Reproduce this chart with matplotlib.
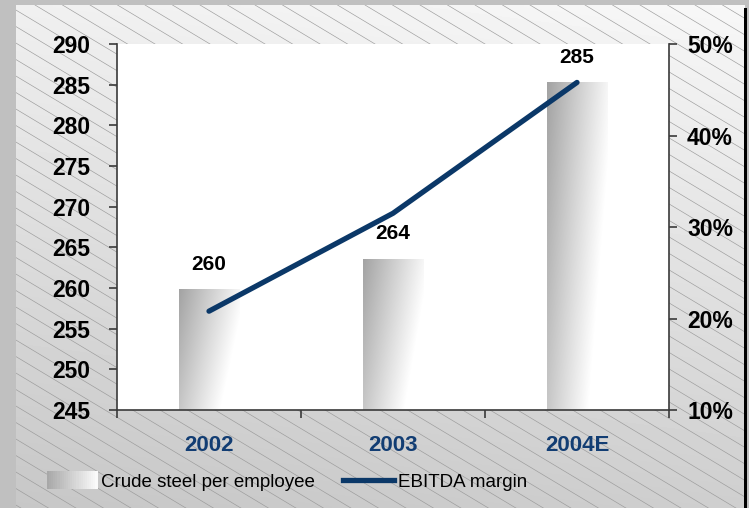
"""
Crude steel per employee vs EBITDA margin, 2002-2004E.
"""

import matplotlib
matplotlib.use("Agg")
import matplotlib.pyplot as plt
import matplotlib.ticker as mticker
import numpy as np
from matplotlib.patches import Rectangle
from matplotlib.lines import Line2D
from matplotlib.legend_handler import HandlerBase

# data
years = ["2002", "2003", "2004E"]
steel_per_employee = [259.9, 263.6, 285.3]
steel_labels = ["260", "264", "285"]
ebitda_margin = [20.8, 31.5, 45.8]

NAVY = "#0b3868"
LABEL_NAVY = "#123d73"
SPINE = "#3a3a3a"
W, H = 749, 508

plt.rcParams["font.family"] = ["Liberation Sans", "DejaVu Sans"]

fig = plt.figure(figsize=(W / 100, H / 100), dpi=100)
fig.patch.set_facecolor("#c0c0c0")

# background panel with gradient + diagonal hatch
bg = fig.add_axes([0, 0, 1, 1], zorder=-10)
bg.set_xlim(0, W)
bg.set_ylim(H, 0)
bg.axis("off")
px0, px1, py0, py1 = 16, 745, 5, H
xx, yy = np.meshgrid(np.linspace(0, 1, 120), np.linspace(0, 1, 120))
shade = 0.97 - 0.16 * yy - 0.03 * (1 - xx)
bg.imshow(shade, cmap="gray", vmin=0, vmax=1, extent=[px0, px1, py1, py0],
          aspect="auto", interpolation="bilinear", zorder=0)
panel = Rectangle((px0, py0), px1 - px0, py1 - py0, transform=bg.transData,
                  facecolor="none", edgecolor="none")
bg.add_patch(panel)
slope = 0.6
for c in np.arange(-900, W + 30, 27.5):
    xs = np.array([c, c + 900])
    ln, = bg.plot(xs, py0 + slope * (xs - c), color="#9a9a9a", lw=0.45, zorder=1)
    ln.set_clip_path(panel)
bg.add_patch(Rectangle((744, 8), 3, H, facecolor="black", edgecolor="none", zorder=2))

# main axes
ax = fig.add_axes([117 / W, 1 - 410 / H, (669 - 117) / W, (410 - 44) / H])
ax.set_facecolor("white")
x = np.arange(len(years))
bars = ax.bar(x, steel_per_employee, width=0.33, color="none", edgecolor="none", zorder=2)
ax.set_xlim(-0.5, 2.5)
ax.set_ylim(245, 290)
ax.set_autoscale_on(False)

bx, by = np.meshgrid(np.linspace(0, 1, 60), np.linspace(0, 1, 120))
bar_shade = np.clip(0.64 + 0.32 * bx + 0.14 * by, 0, 1)
for bar in bars:
    x0, w = bar.get_x(), bar.get_width()
    img = ax.imshow(bar_shade, cmap="gray", vmin=0, vmax=1,
                    extent=[x0, x0 + w, 245, bar.get_height()],
                    aspect="auto", interpolation="bilinear", zorder=2)
    img.set_clip_path(bar)

for bar, lab in zip(bars, steel_labels):
    ax.annotate(lab, xy=(bar.get_x() + bar.get_width() / 2, bar.get_height()),
                xytext=(0, 11), textcoords="offset points", ha="center", va="bottom",
                fontsize=15, fontweight="bold", color="black")

ax.set_yticks(np.arange(245, 291, 5))
ax.set_xticks(np.arange(-0.5, 2.6, 1))
ax.set_xticklabels([])
ax.set_xticks(x, minor=True)
ax.set_xticklabels(years, minor=True, fontsize=16, fontweight="bold", color=LABEL_NAVY)
ax.tick_params(axis="x", which="minor", length=0, pad=18)
ax.tick_params(axis="x", which="major", length=6, width=1.2, color=SPINE, direction="out")
ax.tick_params(axis="y", length=6, width=1.2, color=SPINE, pad=13, labelsize=16.5)
for t in ax.get_yticklabels():
    t.set_fontweight("bold")
for s in ["top", "right"]:
    ax.spines[s].set_visible(False)
for s in ["left", "bottom"]:
    ax.spines[s].set_color(SPINE)
    ax.spines[s].set_linewidth(1.2)

# EBITDA margin on right axis
ax2 = ax.twinx()
ax2.plot(x, ebitda_margin, color=NAVY, lw=3.8, solid_capstyle="round", zorder=3)
ax2.set_ylim(10, 50)
ax2.set_yticks(np.arange(10, 51, 10))
ax2.yaxis.set_major_formatter(mticker.FuncFormatter(lambda v, _: f"{v:.0f}%"))
ax2.tick_params(axis="y", length=6, width=1.2, color=SPINE, pad=7, labelsize=16.5)
for t in ax2.get_yticklabels():
    t.set_fontweight("bold")
for s in ["top", "left", "bottom"]:
    ax2.spines[s].set_visible(False)
ax2.spines["right"].set_color(SPINE)
ax2.spines["right"].set_linewidth(1.2)


class GradientHandler(HandlerBase):
    def create_artists(self, legend, orig, xd, yd, width, height, fontsize, trans):
        n = 24
        arts = []
        for i in range(n):
            g = 0.66 + 0.32 * i / (n - 1)
            arts.append(Rectangle((xd + width * i / n, yd - 2), width / n + 0.3, height + 4,
                                  facecolor=str(g), edgecolor="none", transform=trans))
        return arts


handles = [Rectangle((0, 0), 1, 1), Line2D([], [], color=NAVY, lw=3.8)]
fig.legend(handles, ["Crude steel per employee", "EBITDA margin"],
           handler_map={Rectangle: GradientHandler()},
           loc="center left", bbox_to_anchor=(30 / W, 1 - 482 / H), ncol=2,
           frameon=False, fontsize=13.5, handlelength=2.7, handletextpad=0.2,
           columnspacing=1.5)

fig.savefig("out.png", dpi=100, facecolor=fig.get_facecolor())
